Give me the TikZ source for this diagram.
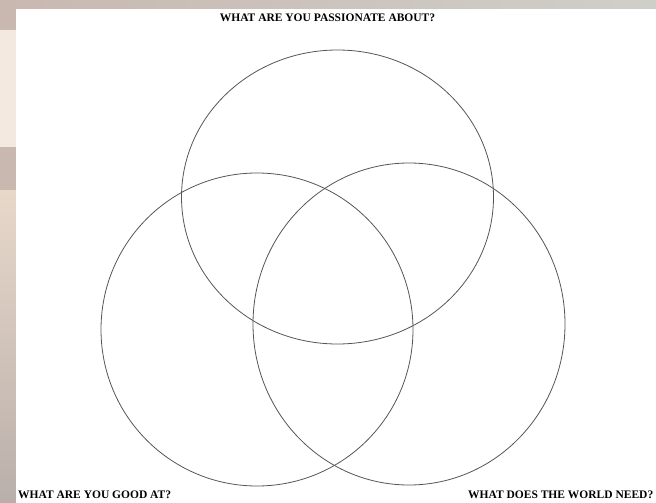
\documentclass[tikz,border=0pt]{standalone}
\usepackage{fontspec}
\setmainfont{Liberation Serif}
\usetikzlibrary{shapes.geometric}
\definecolor{taupe}{HTML}{C9B8B0}
\definecolor{cream}{HTML}{F3E9E1}
\definecolor{sand}{HTML}{E8D8CA}
\definecolor{greyband}{HTML}{CFCFCA}
\definecolor{dusk}{HTML}{B9AFAA}
\definecolor{ringcol}{HTML}{555555}
\tikzset{
  ring/.style={draw=ringcol, line width=0.8pt, ellipse, inner sep=0pt},
  heading/.style={font=\bfseries\fontsize{11.5}{13}\selectfont, inner sep=0pt, text=black}
}
\begin{document}
\begin{tikzpicture}[x=1pt,y=-1pt]
\useasboundingbox (0,0) rectangle (656,503);
% backdrop
\shade[left color=taupe, right color=greyband] (0,0) rectangle (656,9);
\fill[taupe] (0,9) rectangle (16,30);
\fill[cream] (0,30) rectangle (16,147);
\fill[taupe] (0,147) rectangle (16,190);
\shade[top color=sand, bottom color=dusk] (0,190) rectangle (16,503);
\fill[white] (16,9) rectangle (656,503);
% circles
\node[ring, minimum width=312pt, minimum height=294pt] (passion) at (337.5,197) {};
\node[ring, minimum width=312pt, minimum height=313pt] (good) at (257,329.5) {};
\node[ring, minimum width=312pt, minimum height=322pt] (world) at (409,324) {};
% labels
\node[heading] (tpassion) at (327.5,18) {WHAT ARE YOU PASSIONATE ABOUT?};
\node[heading, anchor=west] (tgood) at (18,495) {WHAT ARE YOU GOOD AT?};
\node[heading, anchor=west] (tworld) at (468,495) {WHAT DOES THE WORLD NEED?};
\end{tikzpicture}
\end{document}
